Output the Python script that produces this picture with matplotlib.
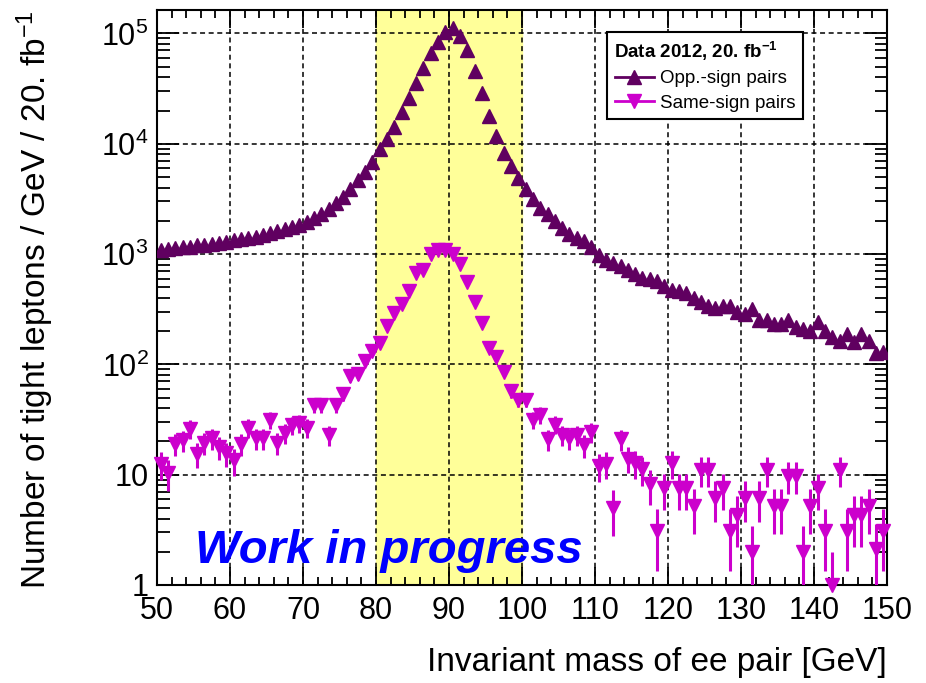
import numpy as np
import matplotlib
matplotlib.use('Agg')
import matplotlib.pyplot as plt
from matplotlib.lines import Line2D
from matplotlib.ticker import FixedLocator, FixedFormatter, MultipleLocator, LogLocator, NullFormatter

plt.rcParams['font.family'] = ['Liberation Sans', 'DejaVu Sans']
plt.rcParams['mathtext.fontset'] = 'custom'
plt.rcParams['mathtext.rm'] = 'Liberation Sans'
plt.rcParams['mathtext.bf'] = 'Liberation Sans:bold'
plt.rcParams['mathtext.it'] = 'Liberation Sans:italic'
plt.rcParams['lines.scale_dashes'] = False

# 1 GeV bins from 50 to 150 GeV
bin_lo = 50
bin_hi = 150
mass = np.arange(bin_lo, bin_hi) + 0.5

# opposite-sign pairs, events / GeV
opp_sign = [1080, 1110, 1130, 1150, 1170, 1200, 1220, 1240, 1270, 1290,
            1330, 1360, 1400, 1440, 1500, 1560, 1620, 1690, 1760, 1820,
            1950, 2100, 2300, 2550, 2900, 3300, 3900, 4700, 5600, 6800,
            9000, 11100, 14300, 19300, 26000, 35500, 49000, 66000, 83000, 103000,
            111000, 94000, 70000, 46000, 29000, 18000, 11800, 8300, 6300, 4900,
            3900, 3150, 2630, 2300, 1990, 1730, 1520, 1400, 1320, 1150,
            990, 880, 830, 780, 715, 660, 610, 600, 570, 515,
            470, 460, 440, 400, 365, 335, 325, 340, 335, 300,
            285, 315, 255, 250, 230, 230, 250, 220, 208, 200,
            240, 200, 178, 163, 187, 160, 190, 163, 126, 130]

# same-sign pairs, events / GeV
same_sign = [12.5, 10.4, 19, 20.5, 26, 15.3, 19.5, 21.5, 17.8, 15.6,
             13.5, 19, 26.5, 21.3, 21.3, 31.6, 19.5, 24, 28, 29.5,
             26.5, 43, 43, 23, 43, 54, 78, 81, 107, 132,
             155, 221, 295, 350, 462, 680, 720, 1000, 1085, 1085,
             1000, 810, 555, 370, 237, 142, 116, 86, 57, 48,
             48, 31.6, 35, 21, 28.5, 23, 21.3, 23, 18.6, 24.5,
             12, 12.6, 5.0, 21, 14, 12.7, 11.2, 8.2, 3.1, 7.5,
             12.7, 7.5, 7.5, 5.2, 11, 11, 6.2, 7.5, 3.1, 4.3,
             6.2, 2.0, 6.2, 11, 5.2, 5.2, 9.8, 9.8, 2.0, 5.2,
             7.5, 3.1, 1.0, 11, 3.1, 4.3, 4.3, 5.2, 2.1, 3.1]

zwin = (80, 100)
col_os = '#600060'
col_ss = '#cc00cc'

fig = plt.figure(figsize=(9.26, 6.83), dpi=100)
ax = fig.add_axes([157/926, 1 - 585/683, 730/926, 575/683])

ax.axvspan(zwin[0], zwin[1], color='#ffff99', zorder=0)

os_arr = np.array(opp_sign, dtype=float)
ss_arr = np.array(same_sign, dtype=float)

e1 = ax.errorbar(mass, os_arr, yerr=np.sqrt(os_arr), fmt='^', color=col_os,
                 ms=9.5, elinewidth=2, capsize=0, zorder=3)
e2 = ax.errorbar(mass, ss_arr, yerr=np.sqrt(ss_arr), fmt='v', color=col_ss,
                 ms=9.5, elinewidth=2.2, capsize=0, zorder=4)
e2[0].set_clip_on(False)

ax.set_yscale('log')
ax.set_xlim(bin_lo, bin_hi)
ax.set_ylim(1, 1.63e5)

ax.xaxis.set_major_locator(MultipleLocator(10))
ax.xaxis.set_minor_locator(MultipleLocator(2))
ax.yaxis.set_major_locator(FixedLocator([1, 10, 1e2, 1e3, 1e4, 1e5]))
ax.yaxis.set_major_formatter(FixedFormatter(['1', '10', r'$10^{2}$', r'$10^{3}$',
                                             r'$10^{4}$', r'$10^{5}$']))
ax.yaxis.set_minor_locator(LogLocator(base=10, subs=np.arange(2, 10)))
ax.yaxis.set_minor_formatter(NullFormatter())

ax.tick_params(which='both', direction='in', top=True, right=True, width=1.3)
ax.tick_params(axis='x', which='major', length=13, labelsize=22, pad=8)
ax.tick_params(axis='x', which='minor', length=6)
ax.tick_params(axis='y', which='major', length=16, labelsize=22, pad=6)
ax.tick_params(axis='y', which='minor', length=9)
for s in ax.spines.values():
    s.set_linewidth(1.5)

ax.grid(True, which='major', color='black', linestyle=(0, (3.6, 2.6)), linewidth=1.1)

ax.set_xlabel('Invariant mass of ee pair [GeV]', fontsize=24, loc='right', labelpad=15)
ax.set_ylabel(r'Number of tight leptons / GeV / 20. fb$^{-1}$', fontsize=24, loc='top')
ax.yaxis.set_label_coords(-0.138, 1.0)

ax.text(55.2, 1.594, 'Work in progress', color='#0000ff', fontsize=34,
        fontweight='bold', fontstyle='italic', va='baseline', ha='left', zorder=5)

handles = [Line2D([], [], color=col_os, marker='^', ms=10, lw=2),
           Line2D([], [], color=col_ss, marker='v', ms=10, lw=2)]
leg = ax.legend(handles, ['Opp.-sign pairs', 'Same-sign pairs'],
                title=r'Data 2012, 20. fb$^{\mathbf{-1}}$',
                loc='upper left', bbox_to_anchor=(607/926, 1 - 32/683),
                bbox_transform=fig.transFigure, fontsize=13.5,
                title_fontproperties={'weight': 'bold', 'size': 13.5},
                alignment='left', fancybox=False, edgecolor='black',
                framealpha=1, borderpad=0.4, handlelength=2.1,
                handletextpad=0.35, labelspacing=0.4, borderaxespad=0)
leg.get_frame().set_linewidth(1.5)
leg.set_zorder(6)

fig.savefig('out.png', dpi=100)
